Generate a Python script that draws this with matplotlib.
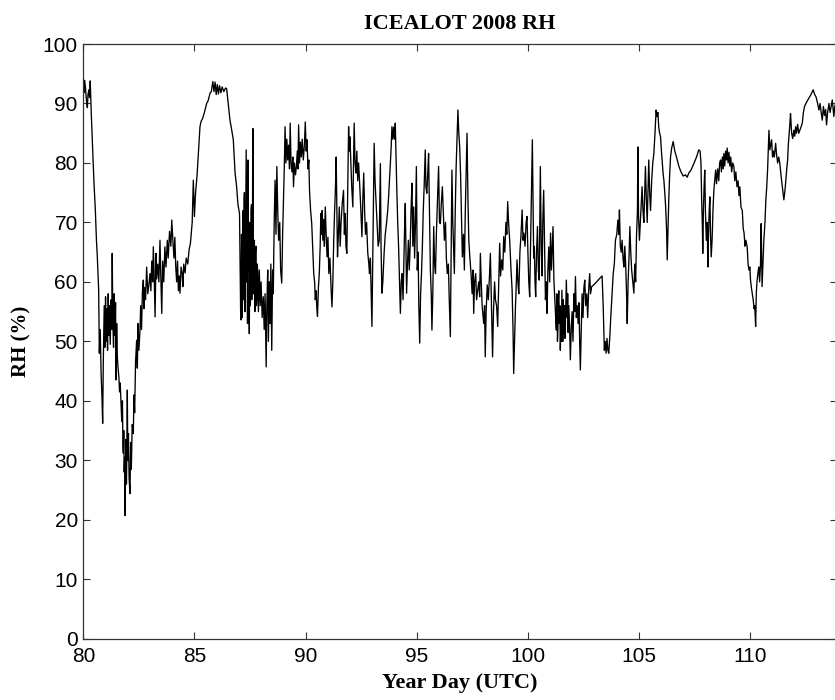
import matplotlib
matplotlib.use("Agg")
import matplotlib.pyplot as plt

# RH readings (year day, %)
seg_80_85 = [
    (80.00, 93.5), (80.03, 91.8), (80.06, 93.9), (80.10, 92.5), (80.14, 90.5), (80.18, 89.3), (80.21, 91.5),
    (80.25, 92.3), (80.28, 91.0), (80.31, 93.8), (80.36, 88.0), (80.42, 82.2), (80.48, 76.6), (80.54, 72.1),
    (80.59, 67.0), (80.63, 64.2), (80.69, 58.6), (80.72, 48.0), (80.76, 52.0), (80.80, 44.6), (80.84, 40.5),
    (80.87, 36.2), (80.90, 47.0), (80.94, 56.0), (80.97, 49.0), (81.00, 57.5), (81.03, 50.0), (81.06, 55.5),
    (81.09, 48.5), (81.12, 58.0), (81.15, 51.0), (81.18, 56.0), (81.21, 49.5), (81.25, 57.0), (81.28, 52.0),
    (81.30, 64.8), (81.33, 53.0), (81.36, 49.0), (81.39, 58.0), (81.42, 51.0), (81.45, 56.5), (81.47, 43.5),
    (81.50, 53.0), (81.53, 47.5), (81.56, 45.7), (81.60, 44.0), (81.63, 41.5), (81.66, 43.0), (81.70, 39.0),
    (81.73, 36.5), (81.76, 40.0), (81.78, 33.0), (81.80, 31.2), (81.82, 35.0), (81.84, 28.0), (81.86, 30.5),
    (81.88, 20.7), (81.90, 29.0), (81.92, 33.5), (81.94, 26.0), (81.96, 31.5), (81.98, 41.8), (82.00, 30.0),
    (82.03, 34.5), (82.06, 27.0), (82.10, 24.4), (82.13, 33.0), (82.16, 28.5), (82.20, 36.0), (82.25, 34.5),
    (82.28, 41.0), (82.31, 38.0), (82.35, 46.5), (82.40, 50.2), (82.43, 45.5), (82.46, 53.0), (82.50, 48.5),
    (82.55, 51.9), (82.58, 56.0), (82.62, 52.0), (82.66, 58.5), (82.70, 60.3), (82.73, 55.5), (82.76, 59.0),
    (82.80, 57.0), (82.85, 62.5), (82.90, 58.0), (82.95, 59.5), (83.00, 61.4), (83.04, 58.5), (83.08, 63.5),
    (83.12, 60.0), (83.15, 65.9), (83.19, 61.0), (83.23, 54.1), (83.27, 64.8), (83.30, 60.5), (83.35, 63.0),
    (83.40, 60.0), (83.45, 67.0), (83.48, 62.0), (83.53, 54.7), (83.57, 63.5), (83.62, 60.0), (83.67, 65.9),
    (83.72, 62.5), (83.78, 67.0), (83.82, 64.0), (83.88, 68.5), (83.94, 66.0), (83.98, 70.4), (84.03, 67.0),
    (84.08, 64.0), (84.12, 67.5), (84.16, 62.5), (84.20, 60.0), (84.24, 63.5), (84.28, 58.5), (84.32, 61.0),
    (84.35, 58.1), (84.40, 62.5), (84.45, 61.4), (84.48, 59.2), (84.52, 63.0), (84.58, 61.5), (84.63, 64.0),
    (84.70, 63.0), (84.76, 65.4), (84.82, 66.5), (84.90, 70.0), (84.95, 77.1),
]

seg_85_93 = [
    (85.00, 71.0), (85.05, 74.9), (85.12, 78.0), (85.18, 81.6), (85.25, 86.1), (85.30, 87.0), (85.37, 87.5),
    (85.45, 88.5), (85.55, 90.0), (85.62, 90.5), (85.70, 91.7), (85.76, 92.0), (85.83, 93.7), (85.88, 92.0),
    (85.93, 93.6), (85.98, 91.5), (86.03, 93.2), (86.08, 91.6), (86.13, 93.0), (86.19, 91.8), (86.25, 92.8),
    (86.32, 92.0), (86.40, 92.6), (86.45, 92.5), (86.52, 90.0), (86.60, 87.2), (86.68, 85.5), (86.75, 83.9),
    (86.80, 80.5), (86.83, 78.3), (86.90, 76.0), (86.96, 73.0), (87.03, 71.5), (87.06, 62.0), (87.08, 55.0),
    (87.10, 53.6), (87.12, 68.0), (87.13, 66.0), (87.15, 54.0), (87.16, 56.0), (87.18, 70.0), (87.19, 72.0),
    (87.21, 57.0), (87.22, 58.0), (87.24, 74.0), (87.25, 75.0), (87.27, 56.0), (87.28, 55.0), (87.31, 70.0),
    (87.33, 82.2), (87.36, 60.0), (87.37, 72.0), (87.39, 53.0), (87.41, 80.5), (87.44, 62.0), (87.45, 70.0),
    (87.47, 51.3), (87.50, 70.0), (87.51, 56.0), (87.53, 58.0), (87.55, 72.0), (87.57, 73.0), (87.58, 57.0),
    (87.60, 60.0), (87.63, 85.8), (87.66, 58.0), (87.68, 66.0), (87.70, 67.0), (87.72, 55.0), (87.73, 56.0),
    (87.75, 65.0), (87.77, 66.0), (87.79, 56.0), (87.81, 57.0), (87.83, 63.0), (87.85, 61.4), (87.88, 55.0),
    (87.92, 62.0), (87.96, 56.0), (88.00, 60.0), (88.05, 54.0), (88.10, 57.5), (88.14, 52.0), (88.18, 58.0),
    (88.23, 45.7), (88.26, 56.0), (88.30, 62.0), (88.33, 50.0), (88.37, 60.0), (88.40, 53.0), (88.44, 63.0),
    (88.48, 48.5), (88.52, 62.0), (88.55, 58.0), (88.59, 70.0), (88.63, 77.1), (88.67, 68.0), (88.71, 79.4),
    (88.75, 72.0), (88.79, 67.0), (88.84, 70.0), (88.88, 62.0), (88.93, 59.8), (88.97, 68.0), (89.01, 73.8),
    (89.05, 80.0), (89.08, 86.1), (89.12, 80.0), (89.16, 84.0), (89.20, 80.5), (89.24, 83.0), (89.28, 79.0),
    (89.31, 86.7), (89.35, 80.0), (89.39, 78.5), (89.43, 81.0), (89.46, 76.0), (89.50, 80.0), (89.55, 78.0),
    (89.59, 79.4), (89.63, 82.0), (89.66, 79.0), (89.69, 86.4), (89.73, 80.0), (89.77, 83.5), (89.81, 81.0),
    (89.85, 84.0), (89.90, 80.5), (89.95, 83.0), (89.99, 86.9), (90.03, 82.0), (90.07, 83.9), (90.11, 79.0),
    (90.15, 80.5), (90.18, 75.4), (90.23, 72.0), (90.28, 69.8), (90.33, 65.0), (90.37, 61.4), (90.41, 60.0),
    (90.44, 57.0), (90.48, 58.5), (90.51, 55.5), (90.54, 54.2), (90.58, 59.0), (90.62, 61.4), (90.66, 66.0),
    (90.69, 71.5), (90.72, 68.0), (90.75, 72.0), (90.78, 67.0), (90.82, 70.5), (90.85, 66.0), (90.89, 72.6),
    (90.93, 68.0), (90.97, 64.2), (91.01, 67.5), (91.05, 61.4), (91.10, 64.0), (91.15, 59.0), (91.19, 55.8),
    (91.23, 60.0), (91.27, 67.0), (91.31, 72.0), (91.35, 76.0), (91.38, 81.0), (91.41, 72.0), (91.44, 64.2),
    (91.48, 68.0), (91.52, 72.6), (91.56, 66.0), (91.60, 70.0), (91.65, 73.0), (91.71, 75.4), (91.75, 68.0),
    (91.79, 71.5), (91.82, 66.0), (91.86, 64.8), (91.90, 75.0), (91.94, 86.1), (91.97, 82.0), (92.00, 84.4),
    (92.04, 80.0), (92.08, 76.0), (92.13, 72.6), (92.16, 80.0), (92.19, 86.7), (92.23, 80.0), (92.27, 78.3),
    (92.31, 82.0), (92.35, 77.0), (92.39, 80.0), (92.43, 77.1), (92.48, 73.0), (92.54, 67.6), (92.58, 74.0),
    (92.62, 78.3), (92.66, 72.0), (92.70, 68.0), (92.75, 70.0), (92.80, 65.0), (92.85, 63.0), (92.88, 61.4),
    (92.92, 64.0), (92.96, 57.0), (92.99, 52.5),
]

seg_93_100 = [
    (93.02, 62.0), (93.05, 72.0), (93.09, 83.3), (93.13, 77.0), (93.17, 73.8), (93.22, 70.0), (93.27, 66.0),
    (93.32, 67.0), (93.37, 79.9), (93.40, 66.0), (93.44, 58.1), (93.48, 60.0), (93.54, 65.0), (93.59, 68.0),
    (93.65, 70.0), (93.70, 72.0), (93.74, 74.3), (93.78, 77.0), (93.82, 80.0), (93.86, 83.0), (93.89, 86.1),
    (93.93, 84.0), (93.97, 86.0), (94.01, 84.0), (94.04, 86.7), (94.08, 80.0), (94.11, 75.4), (94.15, 70.0),
    (94.19, 65.9), (94.23, 60.0), (94.27, 54.7), (94.31, 60.0), (94.35, 61.4), (94.39, 57.0), (94.43, 64.0),
    (94.46, 69.0), (94.49, 73.2), (94.52, 65.0), (94.55, 58.1), (94.59, 63.0), (94.63, 67.0), (94.67, 62.0),
    (94.71, 66.0), (94.75, 72.0), (94.79, 76.6), (94.83, 66.0), (94.87, 72.6), (94.91, 64.0), (94.95, 70.0),
    (94.99, 79.4), (95.03, 62.0), (95.07, 65.0), (95.10, 56.0), (95.14, 49.7), (95.18, 58.0), (95.22, 61.4),
    (95.26, 66.0), (95.30, 72.0), (95.34, 76.0), (95.39, 82.2), (95.42, 76.0), (95.46, 74.9), (95.50, 78.0),
    (95.54, 81.6), (95.58, 72.0), (95.62, 62.0), (95.66, 58.0), (95.69, 51.9), (95.73, 58.0), (95.77, 69.3),
    (95.81, 63.0), (95.85, 61.4), (95.89, 68.0), (95.94, 74.0), (95.99, 79.4), (96.03, 70.0), (96.07, 69.8),
    (96.11, 73.0), (96.16, 76.0), (96.20, 72.0), (96.25, 67.0), (96.30, 70.0), (96.34, 64.0), (96.38, 61.4),
    (96.43, 63.0), (96.47, 57.0), (96.52, 50.8), (96.56, 66.0), (96.59, 78.8), (96.63, 70.0), (96.70, 61.4),
    (96.74, 72.0), (96.78, 79.4), (96.82, 84.0), (96.86, 88.9), (96.90, 85.0), (96.94, 82.7), (96.98, 78.0),
    (97.02, 71.5), (97.06, 64.2), (97.11, 68.0), (97.15, 62.0), (97.19, 71.5), (97.23, 78.0), (97.27, 85.0),
    (97.31, 74.0), (97.35, 67.0), (97.40, 64.0), (97.45, 61.4), (97.50, 58.0), (97.54, 62.0), (97.57, 54.7),
    (97.61, 60.0), (97.66, 61.4), (97.70, 57.0), (97.75, 58.6), (97.80, 60.0), (97.84, 57.5), (97.87, 64.8),
    (97.91, 60.0), (97.95, 56.0), (98.02, 53.0), (98.06, 56.0), (98.09, 47.4), (98.13, 55.0), (98.18, 59.5),
    (98.23, 57.0), (98.28, 61.0), (98.32, 64.8), (98.36, 58.0), (98.40, 52.0), (98.42, 47.4), (98.46, 55.0),
    (98.51, 60.0), (98.55, 57.0), (98.60, 56.0), (98.65, 52.5), (98.70, 60.0), (98.74, 66.5), (98.78, 61.0),
    (98.83, 63.7), (98.88, 62.0), (98.92, 67.6), (98.97, 65.0), (99.02, 70.0), (99.06, 68.0), (99.10, 73.5),
    (99.14, 70.0), (99.19, 67.0), (99.25, 62.0), (99.30, 58.6), (99.34, 52.0), (99.37, 44.6), (99.41, 50.0),
    (99.45, 55.8), (99.49, 60.0), (99.52, 63.7), (99.56, 60.0), (99.60, 58.0), (99.65, 65.0), (99.70, 68.0),
    (99.75, 72.1), (99.79, 67.0), (99.83, 68.2), (99.88, 66.0), (99.93, 70.0), (99.97, 71.0),
]

seg_100_107 = [
    (100.01, 65.0), (100.05, 60.0), (100.09, 57.5), (100.13, 66.0), (100.17, 75.0), (100.21, 83.9),
    (100.24, 73.8), (100.27, 64.0), (100.30, 65.9), (100.33, 60.0), (100.36, 57.5), (100.40, 65.0),
    (100.44, 69.3), (100.48, 62.0), (100.52, 60.3), (100.57, 79.4), (100.61, 66.0), (100.65, 61.0),
    (100.68, 70.0), (100.72, 75.4), (100.76, 66.0), (100.80, 57.0), (100.84, 60.0), (100.87, 54.7),
    (100.91, 62.0), (100.95, 65.9), (100.99, 60.0), (101.03, 68.2), (101.07, 62.0), (101.11, 66.0),
    (101.14, 69.3), (101.18, 60.3), (101.22, 57.0), (101.26, 54.0), (101.29, 51.9), (101.31, 58.0),
    (101.33, 56.0), (101.34, 50.0), (101.36, 52.0), (101.38, 57.0), (101.40, 58.5), (101.43, 53.0),
    (101.45, 56.0), (101.47, 48.5), (101.50, 55.0), (101.52, 50.0), (101.54, 58.6), (101.58, 50.0),
    (101.60, 57.0), (101.62, 51.3), (101.66, 56.0), (101.68, 50.5), (101.70, 53.0), (101.74, 60.3),
    (101.78, 54.0), (101.80, 58.0), (101.82, 51.5), (101.85, 56.0), (101.89, 52.0), (101.92, 46.9),
    (101.96, 52.0), (102.00, 55.0), (102.04, 50.0), (102.08, 58.0), (102.12, 55.0), (102.15, 60.9),
    (102.19, 54.0), (102.23, 56.0), (102.27, 53.0), (102.31, 56.5), (102.34, 50.0), (102.37, 45.2),
    (102.41, 52.0), (102.45, 58.0), (102.49, 54.0), (102.53, 59.0), (102.57, 60.3), (102.61, 56.0),
    (102.66, 58.0), (102.70, 54.0), (102.75, 59.0), (102.79, 61.4), (102.83, 58.0), (102.88, 59.2),
    (102.97, 59.5), (103.10, 60.0), (103.22, 60.5), (103.35, 61.0), (103.40, 55.8), (103.45, 48.5),
    (103.49, 50.0), (103.53, 48.0), (103.57, 50.5), (103.61, 48.5), (103.65, 48.0), (103.70, 51.0),
    (103.74, 54.1), (103.80, 58.0), (103.85, 61.4), (103.90, 63.0), (103.95, 67.0), (104.01, 68.0),
    (104.06, 70.4), (104.10, 68.0), (104.13, 72.1), (104.17, 66.0), (104.21, 65.0), (104.25, 67.0),
    (104.29, 64.0), (104.33, 62.5), (104.37, 66.0), (104.41, 63.0), (104.45, 58.0), (104.48, 53.0),
    (104.52, 60.0), (104.56, 64.0), (104.60, 69.3), (104.64, 65.0), (104.68, 62.0), (104.73, 60.0),
    (104.78, 58.1), (104.82, 63.0), (104.86, 60.0), (104.90, 68.0), (104.94, 72.0), (104.96, 82.7),
    (104.99, 71.0), (105.03, 67.0), (105.07, 70.0), (105.11, 73.0), (105.15, 76.0), (105.19, 72.0),
    (105.23, 70.0), (105.26, 74.0), (105.30, 79.4), (105.34, 74.0), (105.38, 70.0), (105.42, 76.0),
    (105.45, 80.5), (105.49, 75.0), (105.53, 72.0), (105.58, 77.0), (105.63, 80.0), (105.68, 81.6),
    (105.73, 85.0), (105.78, 88.9), (105.82, 87.8), (105.86, 88.5), (105.90, 86.0), (105.94, 85.0),
    (105.98, 84.4), (106.02, 82.0), (106.06, 80.0), (106.10, 78.0), (106.13, 77.1), (106.17, 75.0),
    (106.21, 72.6), (106.25, 69.0), (106.28, 63.7), (106.31, 68.0), (106.35, 73.8), (106.39, 78.0),
    (106.43, 81.0), (106.48, 82.5), (106.55, 83.6), (106.62, 82.0), (106.70, 81.0), (106.80, 79.5),
    (106.90, 78.5),
]

seg_107_114 = [
    (107.00, 77.8), (107.10, 78.0), (107.18, 77.6), (107.25, 78.3), (107.35, 78.8), (107.48, 79.9),
    (107.60, 81.0), (107.70, 82.2), (107.76, 82.0), (107.80, 80.0), (107.83, 73.8), (107.86, 70.0),
    (107.88, 64.8), (107.91, 72.0), (107.94, 76.0), (107.97, 78.8), (108.00, 72.0), (108.04, 67.0),
    (108.08, 70.0), (108.11, 62.5), (108.14, 68.0), (108.17, 72.0), (108.20, 74.3), (108.23, 68.0),
    (108.26, 64.2), (108.30, 67.0), (108.34, 72.0), (108.38, 75.4), (108.42, 77.0), (108.46, 78.8),
    (108.50, 76.5), (108.55, 79.0), (108.60, 77.0), (108.64, 80.0), (108.68, 80.5), (108.72, 78.5),
    (108.76, 81.0), (108.80, 79.0), (108.83, 81.6), (108.87, 79.5), (108.91, 82.0), (108.95, 80.5),
    (108.98, 82.5), (109.02, 80.0), (109.06, 81.8), (109.10, 79.5), (109.14, 81.0), (109.18, 78.5),
    (109.23, 80.0), (109.28, 79.4), (109.32, 77.0), (109.37, 78.5), (109.42, 76.0), (109.47, 77.0),
    (109.51, 74.5), (109.55, 76.0), (109.60, 72.6), (109.66, 72.0), (109.70, 69.0), (109.74, 68.2),
    (109.78, 66.0), (109.82, 67.0), (109.88, 65.9), (109.92, 63.0), (109.96, 62.0), (110.00, 62.5),
    (110.03, 60.3), (110.07, 59.0), (110.11, 58.0), (110.15, 57.0), (110.19, 55.5), (110.22, 56.0),
    (110.26, 52.5), (110.29, 58.1), (110.32, 60.0), (110.36, 61.4), (110.40, 62.5), (110.44, 60.0),
    (110.48, 63.0), (110.51, 69.8), (110.55, 59.2), (110.59, 63.0), (110.63, 67.0), (110.68, 70.0),
    (110.72, 73.8), (110.76, 76.0), (110.80, 79.0), (110.83, 82.0), (110.86, 85.5), (110.90, 82.2),
    (110.94, 83.0), (110.98, 83.9), (111.02, 81.0), (111.06, 82.0), (111.10, 81.0), (111.16, 83.3),
    (111.20, 81.5), (111.25, 80.0), (111.30, 81.0), (111.35, 79.9), (111.40, 78.0), (111.46, 76.0),
    (111.50, 74.5), (111.53, 73.8), (111.57, 75.0), (111.62, 77.1), (111.66, 79.0), (111.70, 80.5),
    (111.73, 83.0), (111.76, 84.4), (111.80, 86.5), (111.83, 88.3), (111.88, 85.0), (111.93, 84.1),
    (111.98, 85.5), (112.02, 84.5), (112.06, 86.1), (112.10, 85.0), (112.15, 86.5), (112.20, 85.0),
    (112.25, 85.5), (112.30, 86.0), (112.36, 86.7), (112.41, 88.5), (112.46, 89.5), (112.55, 90.2),
    (112.66, 90.9), (112.75, 91.5), (112.85, 92.3), (112.92, 91.5), (112.98, 91.1), (113.05, 90.0),
    (113.11, 88.9), (113.16, 90.0), (113.21, 88.5), (113.26, 87.2), (113.31, 89.5), (113.36, 88.0),
    (113.41, 89.0), (113.45, 86.4), (113.50, 88.5), (113.56, 90.0), (113.61, 88.5), (113.66, 89.5),
    (113.71, 90.6), (113.75, 89.0), (113.78, 87.8), (113.82, 89.5), (113.86, 90.0), (113.92, 89.0),
]

x_ticks = [80, 85, 90, 95, 100, 105, 110]
y_ticks = [0, 10, 20, 30, 40, 50, 60, 70, 80, 90, 100]

records = seg_80_85 + seg_85_93 + seg_93_100 + seg_100_107 + seg_107_114
year_day = [d for d, _ in records]
rh = [v for _, v in records]

fig = plt.figure(figsize=(8.35, 7.0), dpi=100)
ax = fig.add_axes([0.0998, 0.0876, 0.902, 0.8495])

ax.plot(year_day, rh, color="black", linewidth=0.95)

ax.set_xlim(80, 113.9)
ax.set_ylim(0, 100)
ax.set_xticks(x_ticks)
ax.set_yticks(y_ticks)

tick_font = {"family": "Liberation Sans", "size": 15}
ax.set_xticklabels([str(t) for t in x_ticks], fontdict=tick_font)
ax.set_yticklabels([str(t) for t in y_ticks], fontdict=tick_font)
ax.tick_params(direction="in", length=5, width=0.8, top=True, right=True, color="#333333")
ax.tick_params(axis="x", pad=6)
ax.tick_params(axis="y", pad=4)
for s in ax.spines.values():
    s.set_linewidth(0.9)
    s.set_color("#333333")

lab_font = {"family": "Liberation Serif", "weight": "bold", "size": 16}
ax.set_title("ICEALOT 2008 RH", fontdict=lab_font, pad=11)
ax.set_xlabel("Year Day (UTC)", fontdict=lab_font, labelpad=5)
ax.set_ylabel("RH (%)", fontdict=dict(lab_font, size=15), labelpad=8)

fig.savefig("out.png", dpi=100)
